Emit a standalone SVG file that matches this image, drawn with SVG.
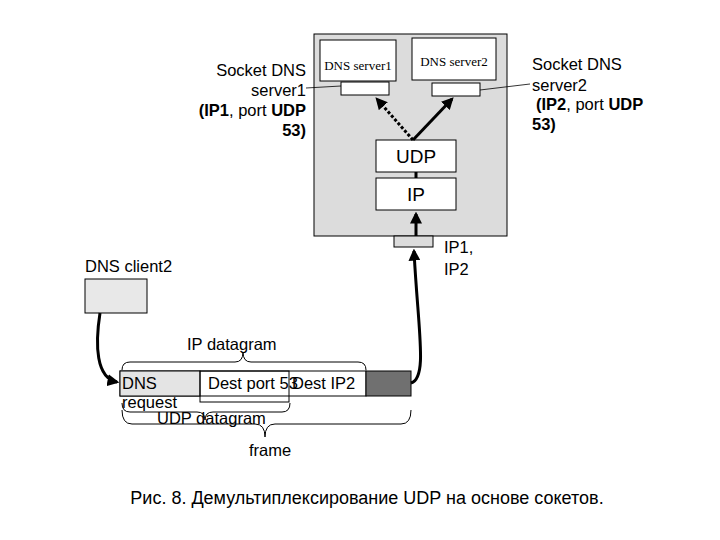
<svg xmlns="http://www.w3.org/2000/svg" width="720" height="540" viewBox="0 0 720 540">
<style>
text{font-family:"Liberation Sans",Arial,sans-serif;font-size:16.5px;fill:#000}
text.serif{font-family:"Liberation Serif","Times New Roman",serif;font-size:13px}
text.big{font-size:19px}
text.cap{font-size:18px}
.box{fill:#fff;stroke:#000;stroke-width:1}
.brace{fill:none;stroke:#000;stroke-width:1}
</style>
<defs>
<marker id="ah" viewBox="0 0 10 10" refX="8" refY="5" markerWidth="4" markerHeight="4" orient="auto"><path d="M0,0L10,5L0,10z" fill="#000"/></marker>
</defs>
<rect width="720" height="540" fill="#fff"/>
<g id="host"><rect x="314" y="34" width="193" height="202" fill="#dcdcdc" stroke="#000"/></g>
<g id="server1"><rect class="box" x="320" y="40" width="76" height="41"/><text class="serif" x="358" y="70" text-anchor="middle">DNS server1</text></g>
<g id="server2"><rect class="box" x="412" y="38" width="84" height="42"/><text class="serif" x="454" y="66" text-anchor="middle">DNS server2</text></g>
<g id="socket1"><rect class="box" x="341" y="82" width="48" height="13"/></g>
<g id="socket2"><rect class="box" x="432" y="83" width="48" height="13"/></g>
<g id="udp"><rect class="box" x="376" y="140" width="80" height="32"/><text class="big" x="416" y="163" text-anchor="middle">UDP</text></g>
<g id="ip"><rect class="box" x="376" y="178" width="80" height="32"/><text class="big" x="416" y="201" text-anchor="middle">IP</text></g>
<g id="port"><rect x="394" y="236" width="39" height="11" fill="#dcdcdc" stroke="#000"/></g>
<g id="client"><rect x="85" y="279" width="62" height="34" fill="#e8e8e8" stroke="#000"/></g>
<g id="frame">
<rect x="120" y="371" width="246" height="25" fill="#fff" stroke="#000"/>
<rect x="120" y="371" width="80" height="25" fill="#e4e4e4" stroke="#000"/>
<rect x="200" y="371" width="89" height="31" fill="none" stroke="#000"/>
<rect x="366" y="371" width="45" height="25" fill="#707070" stroke="#000"/>
</g>
<g id="labels">
<text x="306" y="76" text-anchor="end">Socket  DNS</text>
<text x="306" y="96" text-anchor="end">server1</text>
<text x="306" y="116" text-anchor="end"><tspan font-weight="bold">(IP1</tspan>, port <tspan font-weight="bold">UDP</tspan></text>
<text x="306" y="136" text-anchor="end" font-weight="bold">53)</text>
<text x="532" y="70">Socket  DNS</text>
<text x="532" y="91">server2</text>
<text x="536" y="110"><tspan font-weight="bold">(IP2</tspan>, port <tspan font-weight="bold">UDP</tspan></text>
<text x="532" y="130" font-weight="bold">53)</text>
<text x="444" y="253">IP1,</text>
<text x="444" y="275">IP2</text>
<text x="85" y="272">DNS client2</text>
<text x="187" y="350">IP datagram</text>
<text x="122" y="389">DNS</text>
<text x="122" y="408">request</text>
<text x="208" y="389">Dest port 53</text>
<text x="292" y="389">Dest IP2</text>
<text x="157" y="424">UDP datagram</text>
<text x="249" y="456">frame</text>
<text class="cap" x="367" y="504" text-anchor="middle">Рис. 8. Демультиплексирование UDP на основе сокетов.</text>
</g>
<g id="connectors" fill="none" stroke="#000">
<path d="M306,88 L341,86" stroke-width="0.8"/>
<path d="M480,90 L530,84" stroke-width="0.8"/>
<path d="M413,140 L377,99" stroke-width="3" stroke-dasharray="3,2" marker-end="url(#ah)"/>
<path d="M413,140 L452,99" stroke-width="3" marker-end="url(#ah)"/>
<path d="M416,172 L416,178" stroke-width="3"/>
<path d="M416,236 L416,214" stroke-width="3" marker-end="url(#ah)"/>
<path d="M100,313 C95,345 96,378 117,382" stroke-width="3" marker-end="url(#ah)"/>
<path d="M411,383 C428,378 418,330 414,251" stroke-width="3" marker-end="url(#ah)"/>
<path class="brace" d="M122,370 Q122,362 130,362 L235,362 Q243,362 243,352 Q243,362 251,362 L358,362 Q366,362 366,370"/>
<path class="brace" d="M122,403 Q122,412 130,412 L197,412 Q205,412 205,420 Q205,412 213,412 L282,412 Q290,412 290,403"/>
<path class="brace" d="M122,410 Q122,424 132,424 L255,424 Q265,424 265,437 Q265,424 275,424 L401,424 Q411,424 411,410"/>
</g>
</svg>
